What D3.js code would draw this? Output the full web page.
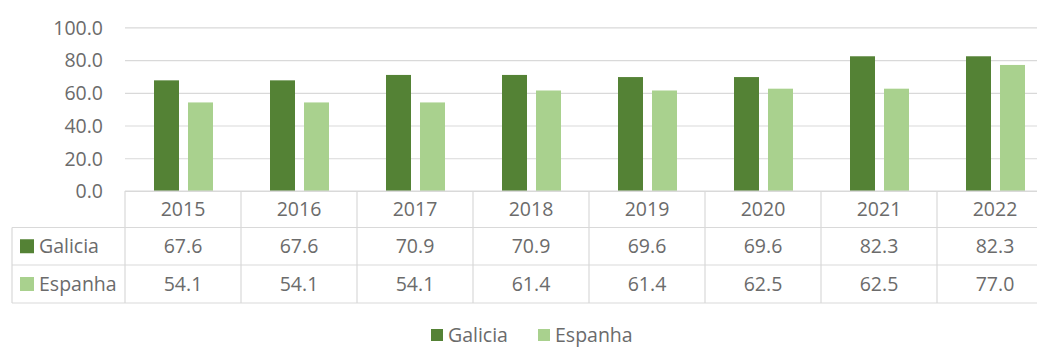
<!DOCTYPE html>
<html>
<head>
<meta charset="utf-8">
<script src="https://cdn.jsdelivr.net/npm/d3@7"></script>
<style>
  html, body { margin: 0; padding: 0; background: #fff; overflow: hidden; }
  svg { display: block; font-family: "Open Sans", sans-serif; }
</style>
</head>
<body>
<svg id="chart" width="1037" height="347"></svg>
<script>
const years = ["2015","2016","2017","2018","2019","2020","2021","2022"];
const seriesNames = ["Galicia","Espanha"];
const galicia = [67.6,67.6,70.9,70.9,69.6,69.6,82.3,82.3];
const espanha = [54.1,54.1,54.1,61.4,61.4,62.5,62.5,77.0];
const yTicks = [0,20,40,60,80,100];
const colors = ["#548235","#a9d18e"];
const seriesValues = [galicia, espanha];

const svg = d3.select("#chart");
const textColor = "#6b6b6b";
const lineColor = "#d9d9d9";
const fs = 19.5;

const plotLeft = 125, cellW = 116;
const x = d3.scaleBand().domain(years).range([plotLeft, plotLeft + cellW*years.length]).padding(0);
const x1 = d3.scaleBand().domain(seriesNames).range([29, 88]).paddingInner(0.265).paddingOuter(0);
const y = d3.scaleLinear().domain([0,100]).range([191, 27.3]);

// gridlines
const grid = d3.axisLeft(y).tickValues(yTicks).tickSize(-(cellW*years.length)).tickFormat("");
svg.append("g").attr("transform", `translate(${plotLeft},0)`).call(grid)
  .call(g => g.select(".domain").remove())
  .call(g => g.selectAll("line").attr("stroke", lineColor).attr("stroke-width", 1.2));

// y labels
const yAxis = d3.axisLeft(y).tickValues(yTicks).tickSize(0).tickPadding(0).tickFormat(d3.format(".1f"));
svg.append("g").attr("transform", `translate(103,0)`).call(yAxis)
  .call(g => g.select(".domain").remove())
  .call(g => g.selectAll("text").attr("fill", textColor).attr("font-size", fs).attr("font-family", "Open Sans, sans-serif").attr("dy", "0.35em"));

// bars
seriesNames.forEach((s, si) => {
  svg.append("g").selectAll("rect").data(years).join("rect")
    .attr("x", d => x(d) + x1(s))
    .attr("width", x1.bandwidth())
    .attr("y", (d,i) => y(seriesValues[si][i]))
    .attr("height", (d,i) => y(0) - y(seriesValues[si][i]))
    .attr("fill", colors[si]);
});

// data table
const rowTop = [191, 227.5, 265, 303];
const tableRight = plotLeft + cellW*years.length;
const tg = svg.append("g").attr("stroke", lineColor).attr("stroke-width", 1.2);
tg.append("line").attr("x1", plotLeft).attr("x2", tableRight).attr("y1", rowTop[0]).attr("y2", rowTop[0]);
[1,2,3].forEach(i => tg.append("line").attr("x1", 12).attr("x2", tableRight).attr("y1", rowTop[i]).attr("y2", rowTop[i]));
tg.append("line").attr("x1", 12).attr("x2", 12).attr("y1", rowTop[1]).attr("y2", rowTop[3]);
tg.selectAll(".v").data(years).join("line")
  .attr("x1", d => x(d)).attr("x2", d => x(d)).attr("y1", rowTop[0]).attr("y2", rowTop[3]);
tg.append("line").attr("x1", tableRight).attr("x2", tableRight).attr("y1", rowTop[0]).attr("y2", rowTop[3]);

// year header
svg.append("g").selectAll("text").data(years).join("text")
  .attr("x", d => x(d) + x.bandwidth()/2).attr("y", (rowTop[0]+rowTop[1])/2).attr("dy","0.35em")
  .attr("text-anchor","middle").attr("fill", textColor).attr("font-size", fs).text(d => d);

// value rows
seriesNames.forEach((s, si) => {
  const cy = (rowTop[si+1] + rowTop[si+2]) / 2;
  svg.append("g").selectAll("text").data(years).join("text")
    .attr("x", d => x(d) + x.bandwidth()/2).attr("y", cy).attr("dy","0.35em")
    .attr("text-anchor","middle").attr("fill", textColor).attr("font-size", fs)
    .text((d,i) => d3.format(".1f")(seriesValues[si][i]));
  svg.append("rect").attr("x", 20).attr("y", cy - 7).attr("width", 14).attr("height", 14).attr("fill", colors[si]);
  svg.append("text").attr("x", 39).attr("y", cy).attr("dy","0.35em")
    .attr("fill", textColor).attr("font-size", fs).text(s);
});

// bottom legend
const legendItems = [{x: 431, name: "Galicia"}, {x: 538, name: "Espanha"}];
const lg = svg.append("g");
legendItems.forEach((it, i) => {
  lg.append("rect").attr("x", it.x).attr("y", 329).attr("width", 12).attr("height", 12).attr("fill", colors[i]);
  lg.append("text").attr("x", it.x + 17).attr("y", 335).attr("dy","0.35em")
    .attr("fill", textColor).attr("font-size", fs).text(seriesNames[i]);
});
</script>
</body>
</html>
